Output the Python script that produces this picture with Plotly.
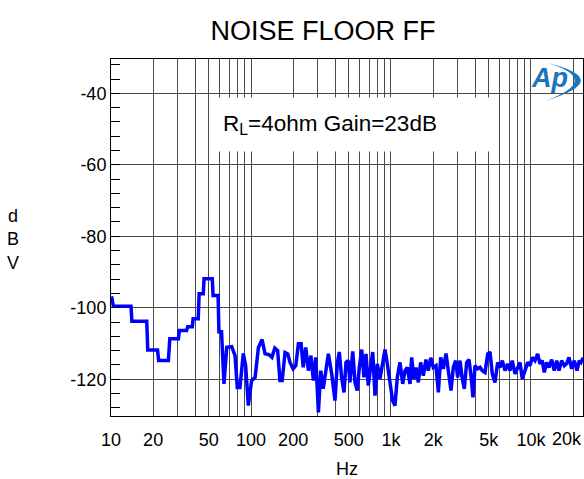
import plotly.graph_objects as go

# ---- data ----
freq_hz = [10.1, 10.4, 13.9, 14.1, 18.0, 18.3, 21.5, 21.9, 25.7, 26.3, 30.3, 30.8, 34.7, 35.3,
           38.1, 38.6, 42.0, 42.6, 45.6, 46.2, 52.9, 53.6, 58.2, 59.0, 61.6, 64.1, 67.1, 72.8,
           76.9, 79.8, 83.4, 88.1, 91.6, 95.7, 101, 107, 113, 120, 126, 134, 141, 148, 155,
           161, 167, 175, 183, 190, 200, 209, 218, 228, 236, 246, 257, 268, 279, 290, 303,
           315, 328, 342, 357, 377, 398, 413, 427, 444, 462, 477, 495, 509, 533, 553, 574,
           594, 618, 641, 663, 688, 716, 740, 769, 798, 834, 873, 906, 941, 984, 1028, 1068,
           1109, 1159, 1213, 1259, 1307, 1367, 1405, 1459, 1510, 1567, 1629, 1702, 1778, 1846,
           1922, 2005, 2096, 2178, 2265, 2364, 2472, 2566, 2683, 2787, 2898, 2995, 3111, 3230,
           3339, 3473, 3608, 3728, 3852, 3981, 4159, 4324, 4490, 4694, 4907, 5094, 5292, 5529,
           5780, 6008, 6242, 6521, 6818, 7079, 7348, 7691, 8040, 8345, 8664, 9057, 9469, 9840,
           10220, 10680, 11160, 11590, 12040, 12440, 12940, 13450, 14060, 14660, 15270, 15850,
           16560, 17300, 17990, 18680, 19530, 20380, 21310, 22130, 22760, 23640]
level_dbv = [-96.8, -99.6, -99.6, -103.8, -103.8, -111.8, -111.8, -114.8, -114.8, -108.7, -108.7,
             -106.4, -106.4, -105.3, -105.3, -103.1, -103.1, -96.1, -96.1, -91.9, -91.9, -96.6,
             -96.6, -106.7, -106.7, -121.3, -111.1, -110.9, -113.4, -122.3, -122.3, -112.8,
             -116.2, -127.4, -120.4, -119.5, -111.1, -108.9, -112.9, -113.1, -113.9, -111.3,
             -112.0, -120.4, -120.4, -112.5, -112.9, -115.3, -117.1, -116.2, -110.1, -110.1,
             -116.7, -111.1, -117.6, -113.4, -120.4, -113.9, -129.3, -117.6, -122.7, -117.6,
             -112.9, -118.5, -126.0, -115.7, -112.4, -119.5, -123.7, -115.3, -114.8, -120.9,
             -112.2, -120.9, -123.2, -116.7, -111.7, -119.5, -112.9, -121.8, -115.7, -112.4,
             -124.6, -115.7, -119.9, -115.7, -111.7, -115.7, -121.3, -126.0, -127.4, -119.5,
             -115.3, -121.3, -117.6, -116.7, -121.3, -113.9, -119.9, -116.7, -120.9, -115.3,
             -119.0, -114.5, -117.6, -114.0, -116.7, -116.2, -123.7, -113.9, -117.1, -112.8,
             -117.6, -123.2, -116.7, -114.8, -119.5, -114.8, -119.9, -122.7, -115.3, -114.5,
             -119.0, -125.1, -116.2, -117.1, -116.7, -117.6, -118.1, -112.9, -112.4, -118.5,
             -120.9, -115.3, -116.7, -114.8, -117.6, -115.7, -117.6, -114.8, -118.5, -116.7,
             -115.3, -119.9, -117.6, -115.3, -116.2, -113.9, -114.8, -112.9, -115.7, -114.8,
             -118.1, -115.3, -116.7, -114.5, -117.6, -114.8, -117.6, -114.8, -116.2, -115.6,
             -113.9, -117.1, -114.8, -117.6, -114.8, -115.3, -114.0]

x_labels = {10: "10", 20: "20", 50: "50", 100: "100", 200: "200", 500: "500",
            1000: "1k", 2000: "2k", 5000: "5k", 10000: "10k"}
last_x_label = "20k"   # drawn separately, nudged inside the page like the reference
y_ticks = [-40, -60, -80, -100, -120]
y_ticktext = ["-40", "-60", "-80", "-100", "-120"]

title_text = "NOISE FLOOR FF"
note_text = "R<sub>L</sub>=4ohm Gain=23dB"
y_title = "d<br>B<br>V"
x_title = "Hz"

# ---- figure ----
x_grid = [m * d for d in (10, 100, 1000, 10000) for m in range(1, 10) if m * d <= 23000]
x_ticktext = [x_labels.get(v, "") for v in x_grid]

FONT = "Arial, 'Liberation Sans', sans-serif"
GRID = "#4a4a4a"
LOGO = "#1b75bc"

fig = go.Figure()
fig.add_trace(go.Scatter(x=freq_hz, y=level_dbv, mode="lines",
                         line=dict(color="#0000ff", width=3.5), hoverinfo="skip"))

fig.update_layout(
    width=584, height=479,
    margin=dict(l=111, r=1, t=59, b=63, autoexpand=False),
    paper_bgcolor="white", plot_bgcolor="white",
    showlegend=False,
    font=dict(family=FONT, size=18, color="black"),
    title=dict(text=title_text, x=0.553, xanchor="center",
               yref="container", y=1 - 31 / 479, yanchor="middle",
               font=dict(family=FONT, size=27, color="black")),
)
fig.update_xaxes(type="log", range=[1, 4.3715], automargin=False,
                 tickmode="array", tickvals=x_grid, ticktext=x_ticktext,
                 showgrid=True, gridcolor=GRID, gridwidth=1,
                 showline=True, linecolor="black", linewidth=1, mirror=True,
                 ticks="", tickfont=dict(size=18), ticklabelstandoff=7,
                 title=dict(text=x_title, font=dict(size=18), standoff=13))
fig.update_yaxes(range=[-130.3, -30.4], automargin=False,
                 tickmode="array", tickvals=y_ticks, ticktext=y_ticktext,
                 showgrid=True, gridcolor=GRID, gridwidth=1,
                 showline=True, linecolor="black", linewidth=1, mirror=True,
                 ticks="inside", ticklen=9, tickcolor="black",
                 minor=dict(tick0=-40, dtick=4, ticks="inside", ticklen=9,
                            tickcolor="black", showgrid=False),
                 tickfont=dict(size=18), zeroline=False)

fig.add_annotation(text=note_text, xref="paper", yref="paper",
                   x=0.2267, y=0.8936, xanchor="left", yanchor="top",
                   width=262, height=45, align="left", valign="middle",
                   bgcolor="white", borderpad=4, showarrow=False,
                   font=dict(family=FONT, size=22.5, color="black"))
fig.add_annotation(text=y_title, xref="paper", yref="paper",
                   x=-0.207, y=0.493, xanchor="center", yanchor="middle",
                   showarrow=False, align="center",
                   font=dict(family=FONT, size=18, color="black"))
fig.add_annotation(text=last_x_label, xref="paper", yref="paper",
                   x=0.967, y=-0.065, xanchor="center", yanchor="middle",
                   showarrow=False, font=dict(family=FONT, size=18, color="black"))
# Ap logo
fig.add_annotation(text="<b><i>Ap</i></b>", xref="paper", yref="paper",
                   x=0.930, y=0.947, xanchor="center", yanchor="middle",
                   showarrow=False, font=dict(family=FONT, size=27, color=LOGO))
fig.add_shape(type="path", xref="paper", yref="paper",
              path="M 0.9258,0.9888 Q 1.068,0.9412 0.9195,0.8824 Q 1.042,0.9412 0.9258,0.9888 Z",
              fillcolor=LOGO, line=dict(width=0), layer="above")

fig.write_html("out.html", config={"displayModeBar": False},
               post_script="document.body.style.margin='0';document.body.style.overflow='hidden';")
